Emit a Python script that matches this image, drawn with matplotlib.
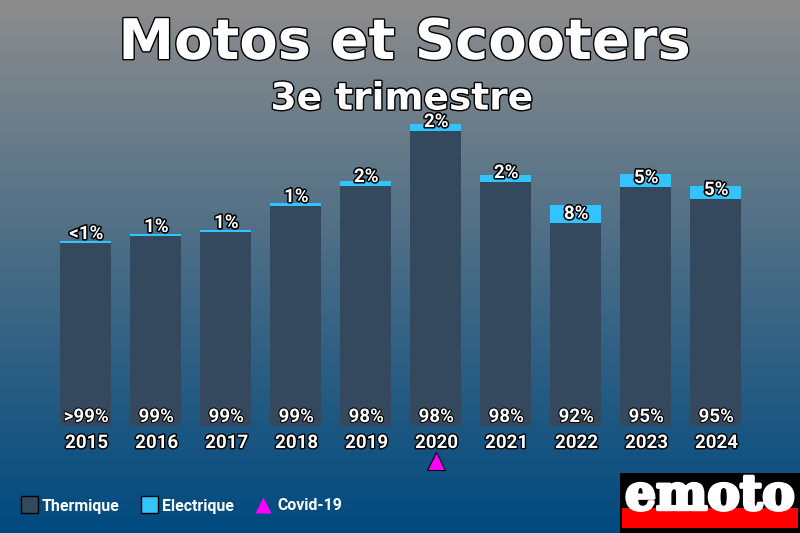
import numpy as np
import matplotlib
matplotlib.use("Agg")
import matplotlib.pyplot as plt
import matplotlib.patheffects as pe
from matplotlib.patches import Rectangle

years = ['2015', '2016', '2017', '2018', '2019', '2020', '2021', '2022', '2023', '2024']
# bar heights, no axis in the original so units are arbitrary
thermique = [183, 190, 194, 220, 240, 295, 244, 203, 239, 227]
electrique = [2, 2, 2, 3, 5, 7, 7, 18, 13, 13]
label_top = ['<1%', '1%', '1%', '1%', '2%', '2%', '2%', '8%', '5%', '5%']
label_bottom = ['>99%', '99%', '99%', '99%', '98%', '98%', '98%', '92%', '95%', '95%']
covid_year = '2020'

color_th = '#34495e'
color_el = '#33c3ff'


def outline(w):
    return [pe.withStroke(linewidth=w, foreground='black')]


fig = plt.figure(figsize=(8, 5.33), dpi=100)

# background + decorations, in pixels
deco = fig.add_axes([0, 0, 1, 1])
deco.set_xlim(0, 800)
deco.set_ylim(533, 0)
deco.axis('off')
grad = np.array([[0.55, 0.55, 0.55], [0.0, 0.29, 0.50]])
t = np.linspace(0, 1, 256)[:, None]
img = (grad[0] * (1 - t) + grad[1] * t)[:, None, :]
deco.imshow(img, extent=[0, 800, 533, 0], aspect='auto', zorder=0)

# bars
ax = fig.add_axes([0, 0, 1, 1])
ax.patch.set_alpha(0)
ax.set_xlim(-85.5 / 70, (800 - 85.5) / 70)
ax.set_ylim(-107, 426)
ax.axis('off')

x = np.arange(len(years))
ax.bar(x, thermique, width=0.73, color=color_th)
ax.bar(x, electrique, width=0.73, bottom=thermique, color=color_el)

for i in x:
    ax.text(i + 0.01, thermique[i] + 9, label_top[i], ha='center', va='center', color='white',
            fontsize=13.5, fontweight='bold', family='Roboto', path_effects=outline(2.2), zorder=5)
    ax.text(i + 0.01, 9, label_bottom[i], ha='center', va='center', color='white',
            fontsize=13.5, fontweight='bold', family='Roboto', path_effects=outline(1.5), zorder=5)
    ax.text(i + 0.015, -17, years[i], ha='center', va='center', color='white',
            fontsize=13.5, fontweight='bold', family='Roboto', path_effects=outline(2), zorder=5)

ax.plot(years.index(covid_year), -35, marker='^', ms=13, color='#ff00ff', mec='black', mew=0.8, zorder=5)

# titles
deco.text(404.5, 44, 'Motos et Scooters', ha='center', va='center', color='white', fontsize=40.3,
          fontweight='bold', path_effects=outline(2), zorder=6)
deco.text(402, 99.5, '3e trimestre', ha='center', va='center', color='white', fontsize=27,
          fontweight='bold', path_effects=outline(2), zorder=6)

# legend
deco.add_patch(Rectangle((21, 496), 17, 17, fc=color_th, ec='black', lw=1, zorder=6))
deco.add_patch(Rectangle((141, 496), 17, 17, fc=color_el, ec='black', lw=1, zorder=6))
deco.plot(263, 505, marker='^', ms=12, color='#ff00ff', mec='none', zorder=6)
for px, s in [(42, 'Thermique'), (162, 'Electrique'), (277, 'Covid-19')]:
    deco.text(px, 506, s, ha='left', va='center', color='white', fontsize=11.4, fontweight='bold',
              family='Roboto', zorder=6)

# logo
deco.add_patch(Rectangle((620, 473), 180, 60, fc='black', ec='none', zorder=6))
deco.add_patch(Rectangle((622, 508), 176, 20, fc='#ff0000', ec='none', zorder=7))
deco.text(710, 496, 'emoto', ha='center', va='center', color='white', fontsize=35, fontweight='bold',
          family='DejaVu Serif', path_effects=[pe.withStroke(linewidth=2.5, foreground='white')], zorder=8)

fig.savefig('out.png', dpi=100)
